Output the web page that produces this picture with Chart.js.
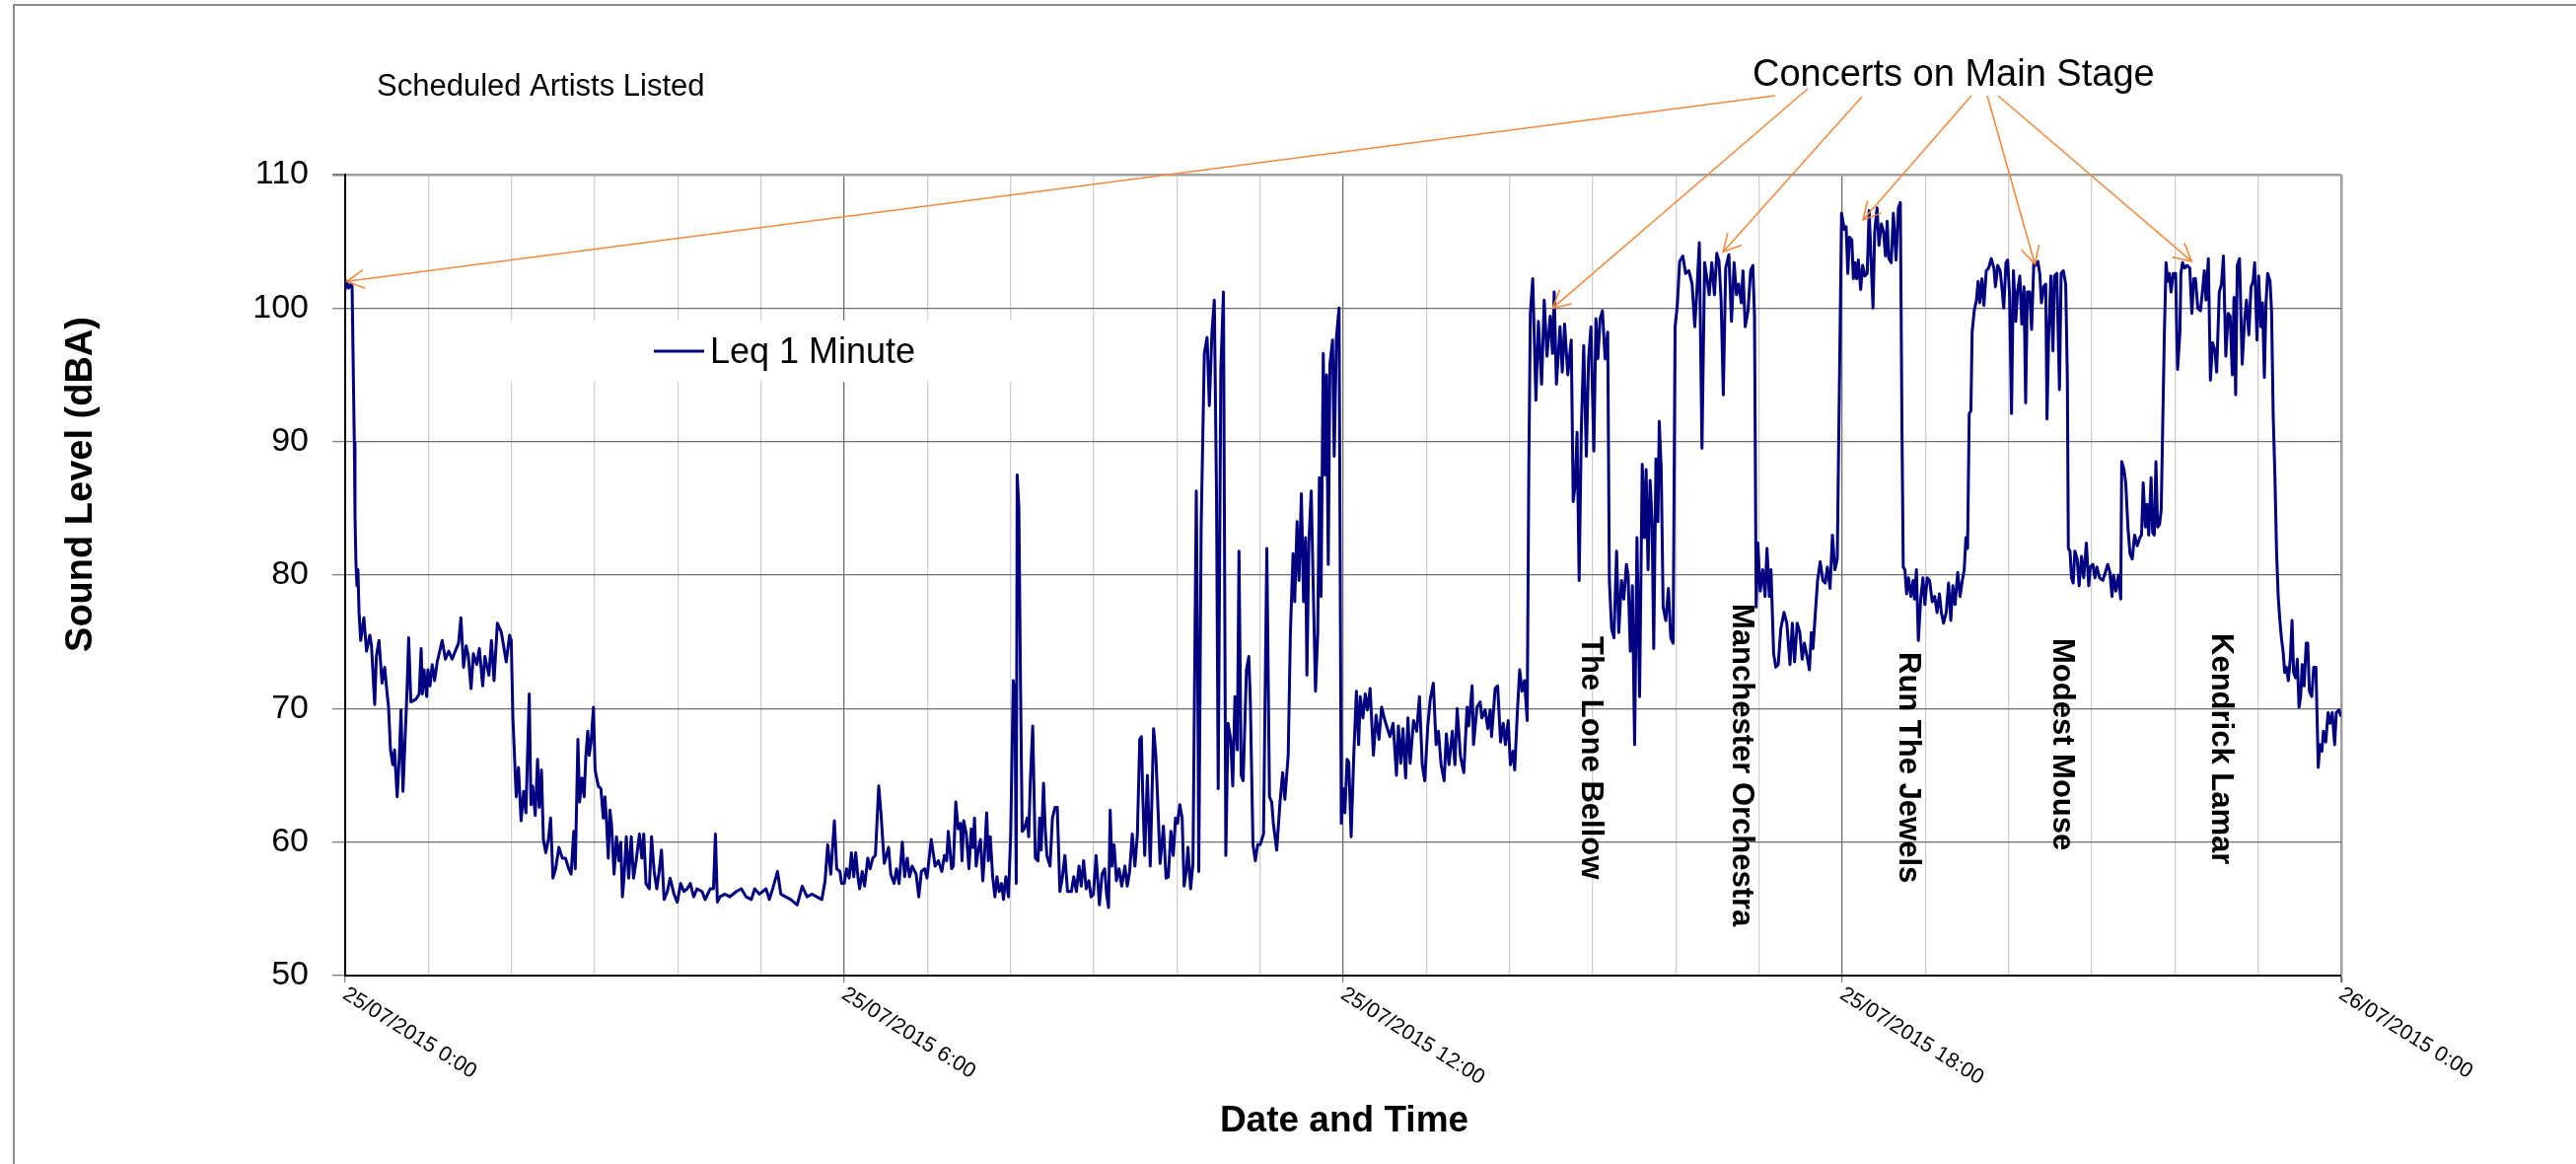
<!DOCTYPE html>
<html lang="en">
<head>
  <meta charset="UTF-8">
  <title>Sound Level 25/07/2015</title>
  <script src="https://cdn.jsdelivr.net/npm/chart.js"></script>
  <style>
    html, body {
      margin: 0;
      padding: 0;
      background: #fff;
    }
    #wrap {
      width: 2612px;
      height: 1180px;
    }
  </style>
</head>
<body>
<div id="wrap"><canvas id="chart" width="2612" height="1180"></canvas></div>

<script>
// Leq 1 minute readings as [minutes after 25/07/2015 0:00, dBA]
const overnight = [
  [0,101.4],[1,102.0],[2.5,101.5],[4.3,101.8],[5,101.6],[6.6,89.9],[7.1,84.4],[7.8,80.8],[8.5,79.2],[9.2,80.4],
  [10,77.2],[11.2,75.1],[13.5,76.8],[15.4,74.3],[17.8,75.5],[19,74.7],[21.3,70.3],[22.5,73.9],[24.4,75.1],[26.6,71.9],
  [28.5,73.1],[30.1,71.3],[31.3,70.1],[32.7,66.9],[34.4,65.8],[35.6,66.9],[37.5,63.4],[39.1,66.5],[40.3,69.9],[41.7,63.8],
  [43.2,67.7],[44.6,71.3],[45.8,75.3],[47.4,70.5],[51,70.7],[53.4,71.1],[54.8,74.5],[55.7,71.1],[56.9,72.9],[58.8,70.9],
  [59.7,72.9],[61.2,71.7],[62.8,73.3],[64.5,72.1],[66.4,73.5],[70,75.1],[72.3,73.7],[74.7,74.3],[77.1,73.7],[79.4,74.3],
  [81.8,74.9],[83.5,76.8],[85.4,73.1],[87.3,74.7],[88.9,73.9],[90.8,71.5],[92.5,74.1],[94.9,73.3],[96.8,74.5],[99.2,71.7],
  [100.8,73.9],[103.7,72.5],[105.5,75.1],[107.4,72.1],[109.8,76.4],[112.7,75.7],[116.2,73.5],[118.6,75.5],[119.8,75.1],[121,69.3],
  [123.4,63.4],[125,65.6],[126.9,61.6],[128.8,63.8],[130.4,62.2],[132.8,71.1],[134,62.8],[135.2,64.2],[137.1,62.0],[138.8,66.2],
  [140,62.6],[141.6,65.4],[143,60.2],[144.7,59.2],[146.6,60.2],[148.2,61.8],[149.9,57.3],[151.8,58.0],[154.2,59.6],[156.6,58.8],
  [158.9,58.8],[161.3,58.0],[163,57.6],[164.9,60.8],[166,58.0],[167.9,67.7],[169.1,63.0],[170.8,64.8],[172.4,63.4],[173.6,66.4],
  [175,68.3],[176,66.5],[177.4,67.5],[179.1,70.1],[180.3,65.4],[182.6,64.2],[184.5,64.0],[186.2,61.8],[187.4,63.4],[188.6,61.4],
  [189.8,58.8],[191,62.4],[192.1,61.4],[194,57.6],[195.7,60.4],[197.4,58.6],[198.8,60.0],[200,55.9],[201.2,57.4],[202.8,60.4],
  [204.5,57.3],[206.4,60.4],[208,57.3],[209.9,58.6],[212.3,60.6],[214,58.8],[215.4,60.6],[217,56.9],[219.4,56.5],[221,60.4],
  [222.9,57.8],[224.8,56.5],[226.5,57.8],[228.2,59.4],[230.1,55.7],[232.4,56.3],[234.4,57.3],[237.2,56.1],[239.6,55.5],[242,56.9],
  [244.3,56.3],[246.7,56.5],[249,56.9],[251.4,55.9],[253.8,56.5],[257.4,56.3],[259.7,55.7],[263.3,56.5],[265.7,56.5],[267.1,60.6],
  [268.5,55.5],[270.4,55.9],[274,56.1],[277.5,55.9],[282.2,56.3],[285.8,56.5],[289.3,55.9],[293,55.7],[295.4,56.5],[298.9,56.1],
  [303.6,56.5],[306,55.7],[308.4,56.5],[311.9,57.8],[314.3,56.1],[317.8,55.9],[321.4,55.7],[326.1,55.3],[329.7,56.7],[333.2,55.9],
  [336.8,56.1],[340.3,55.9],[343.9,55.7],[346.2,57.1],[348.1,59.8],[350.3,57.6],[352.9,61.6],[354.6,58.0],[356.9,57.8],[358.1,56.9]
];

const morning = [
  [360,56.9],[361.7,58.0],[363.6,57.3],[365.2,59.2],[366.9,57.4],[368.3,59.2],[370,57.3],[371.1,56.5],[373,57.8],[374.7,56.7],
  [377,58.8],[378.7,58.0],[380.6,58.8],[382.5,59.0],[384.9,64.2],[386.5,62.2],[388.9,58.4],[392,59.6],[393.6,57.6],[396,56.9],
  [397.7,58.0],[399.6,56.9],[401.9,60.0],[403.6,57.4],[405.5,58.8],[407.1,57.4],[409,58.2],[411.9,57.6],[413.8,55.9],[415.7,57.8],
  [418,58.0],[419.7,57.3],[422.8,60.2],[425.6,58.2],[428,58.6],[430.4,57.8],[432.3,59.0],[433.9,58.6],[435.1,60.8],[437.5,58.0],
  [438.7,58.2],[440.5,63.0],[442.2,61.0],[443.9,61.4],[445,58.6],[446.2,61.6],[448.1,60.6],[450,58.0],[451.7,61.0],[452.9,59.6],
  [454,61.8],[455.2,58.2],[456.4,59.2],[458.3,60.2],[460,57.1],[461.2,59.0],[462.8,62.2],[464,58.6],[465.4,60.4],[467.1,57.4],
  [468.7,55.9],[470.2,57.4],[471.8,56.3],[473.5,56.9],[474.9,55.7],[476.6,57.4],[478.5,55.9],[480.1,60.6],[482,72.1],[483.2,71.0],
  [484.1,56.9],[484.8,87.5],[486,85.1],[487.2,71.7],[488.4,60.8],[490,61.0],[492,61.8],[493.1,60.4],[494.3,64.6],[496,68.7],
  [497.9,58.8],[499.8,58.6],[501,61.8],[502.1,59.4],[503.8,64.4],[505,61.0],[506.2,59.0],[508.5,58.2],[510.2,61.8],[512.1,62.6],
  [513.7,62.6],[515.6,56.3],[517.3,57.3],[519.2,59.0],[521.1,56.3],[523.9,56.3],[525.6,57.4],[527.5,56.3],[529.4,58.2],[531,56.7],
  [532.7,58.6],[534.6,56.5],[536.5,57.1],[538.1,55.9],[539.8,56.1],[541.7,59.0],[544.1,55.3],[546,57.6],[547.9,58.0],[549.3,56.1],
  [550.7,55.1],[551.9,62.4],[553.1,58.2],[554.7,59.8],[556.4,57.1],[558.3,58.0],[560.2,56.7],[562.5,58.2],[564.2,56.7],[565.9,57.8],
  [567.8,60.6],[569.7,58.2],[571.5,60.6],[573.2,67.7],[574.4,67.9],[575.3,63.8],[576.8,59.0],[578.7,65.0],[580.8,58.2],[583.2,68.5],
  [584.8,66.5],[586.2,63.0],[587.9,58.4],[590.3,61.2],[592.2,57.3],[593.8,57.4],[595.7,60.8],[597.4,59.0],[599,61.8],[600.5,61.4],
  [602.1,62.8],[603.8,61.8],[605.2,56.7],[606.8,57.8],[608,59.6],[609.9,56.5],[611.6,58.4],[614,86.3],[615.1,71.7],[615.8,57.8],
  [617.5,83.6],[619.8,96.6],[621.8,97.8],[623.4,92.7],[625.3,98.2],[627,100.6],[628.6,85.9],[629.8,64.0],[631.7,95.4],[633.6,101.2],
  [635.3,59.0],[636.9,68.9],[638.8,67.7],[640.3,64.2],[641.9,70.9],[643.6,66.9],[644.8,81.8],[646.4,65.0],[647.8,64.6],[650.2,72.9],
  [651.9,73.9],[653,70.5],[654.9,59.8],[656.6,58.6],[658.3,59.8],[660.1,59.8],[662.5,60.6],[664.9,82.0],[666.8,63.4],[668.4,63.0],
  [669.6,61.4],[672,59.4],[674.4,63.0],[676.3,65.2],[677.9,63.2],[680.3,66.5],[681.9,75.7],[683.8,81.6],[685,78.0],[686.7,84.0],
  [688.1,79.6],[689.8,86.1],[691.4,78.0],[692.8,82.8],[693.8,72.5],[695.2,82.4],[696.9,86.3],[700,71.3],[701.6,75.7],[702.8,87.3],
  [704,78.4],[705.6,96.6],[706.8,87.5],[708,95.0],[709.2,80.8],[710.4,95.8],[712.3,97.6],[713.5,88.9],[715.1,97.8],[717,100.0]
];

const afternoon = [
  [718.6,61.4],[720,64.0],[721.2,62.2],[722.8,66.2],[724,66.0],[725.7,60.4],[727.6,66.5],[729.5,71.3],[731.1,67.3],[732.3,70.9],
  [734.2,69.3],[735.9,71.1],[737.5,69.9],[739.4,71.5],[741.8,66.5],[743.7,69.5],[745.8,67.7],[747.7,70.1],[750.1,69.1],[753.7,67.9],
  [756,68.9],[758.4,65.0],[759.8,68.7],[761.5,65.9],[763.1,68.5],[765,64.8],[766.7,69.3],[768.3,65.9],[770.7,69.1],[773,68.3],
  [775,70.9],[777,65.8],[778.8,64.6],[781,68.7],[782.8,70.7],[785,71.9],[787,67.3],[788.7,68.3],[790.6,65.8],[792.8,64.6],
  [794.4,68.1],[796.3,65.8],[798.7,68.3],[800.6,65.8],[802.2,70.0],[804.6,66.4],[807,65.2],[809.3,70.1],[810.5,68.7],[813,71.7],
  [814,67.3],[816.5,70.1],[818.8,70.5],[820,69.3],[822.4,69.9],[824.3,68.5],[826,69.9],[827,67.9],[829.6,71.5],[831.4,71.7],
  [833.5,67.5],[835.4,68.9],[837,67.3],[839,69.1],[840.6,65.8],[842.5,66.8],[843.7,65.4],[845.6,69.7],[847.3,72.9],[849,71.3],
  [850.8,72.1],[852.7,69.1],[853.9,88.3],[855,99.6],[856.7,102.2],[859,93.1],[860.8,99.0],[863.1,94.3],[865,100.6],[867,96.4],
  [869.3,99.4],[871,96.6],[872.2,101.2],[873.8,94.3],[876.4,98.6],[878,95.2],[879.7,98.8],[882,95.0],[884.5,97.6],[885.9,85.5],
  [887.3,86.7],[888.7,90.7],[890.2,79.6],[891.8,91.1],[893.5,97.2],[895.4,88.9],[897,96.2],[898.7,98.6],[900.8,89.3],[902.3,99.2],
  [903.7,96.2],[905.3,99.2],[907,99.8],[908.9,96.2],[910.8,98.2],[912,79.6],[913.6,76.0],[915.3,75.3],[917.2,81.8],[918.8,75.7],
  [920.7,79.6],[922.4,78.2],[924.3,80.8],[925.5,80.0],[927.1,74.3],[928.6,79.2],[930.2,67.3],[931.9,82.8],[933.8,70.9],[935.7,88.3],
  [937.3,82.8],[938.5,87.9],[939.9,80.4],[941.4,87.1],[942.8,84.0],[944,74.5],[945.6,88.7],[947,84.0],[948,91.5],[949.4,87.9],
  [950.8,77.6],[952.7,76.6],[954.6,79.0],[956.3,75.3],[958,74.9],[959.4,98.6],[961,100.2],[962.7,103.5],[965,103.9],[967,102.6],
  [969.3,102.8],[971.7,101.8],[973.6,98.6],[975.2,101.4],[976.9,104.9],[978.8,89.5],[980.7,103.4],[982.4,102.2],[984,101.0],[985.9,103.4],
  [987.8,101.0],[989.5,104.1],[991.1,103.5],[992.6,100.6],[994.2,93.5],[995.9,103.0],[998.2,104.0],[1000.1,99.0],[1002,103.4],[1003.7,101.0],
  [1005.3,101.8],[1007.2,100.4],[1008.4,102.8],[1010,98.6],[1012,99.8],[1013.9,102.8],[1015.5,103.2],[1016.7,99.4],[1017.9,77.6],[1019.1,82.4],
  [1020.8,78.8],[1022.6,80.4],[1024.3,78.4],[1025.7,82.0],[1027.4,78.4],[1028.6,80.4],[1030.5,74.1],[1032.1,73.1],[1033.8,73.3],[1035.7,76.0],
  [1038,77.2],[1040,76.4],[1042.3,73.3],[1044,76.4],[1045.6,73.5],[1047.5,76.4],[1049.4,75.7],[1051.1,73.7],[1052.7,74.9],[1054.6,73.9],
  [1056.3,72.9],[1057.7,75.7],[1058.9,74.5],[1060.6,77.2],[1062.2,79.6],[1064.1,81.0],[1066,79.6],[1067.7,79.4],[1069.3,80.6],[1071.2,79.0],
  [1072.9,83.0],[1074.7,80.4],[1076.4,81.2],[1077.9,93.9],[1079.5,107.1]
];

const evening = [
  [1081.4,105.9],[1082.8,106.1],[1084,102.6],[1085.2,105.3],[1086.9,105.1],[1088,102.2],[1089.2,103.4],[1090.4,102.2],[1091.6,103.6],[1093.3,101.4],
  [1094.7,103.2],[1096.3,102.4],[1098,102.6],[1099.4,107.3],[1100.6,104.1],[1102.2,100.0],[1103.4,105.7],[1105.1,107.5],[1106.5,104.7],[1108.2,106.3],
  [1109.8,105.7],[1111.2,103.9],[1112.4,106.5],[1113.6,103.7],[1115.3,103.4],[1116.9,107.1],[1118.8,103.6],[1120.5,107.5],[1121.9,107.9],[1123.1,90.7],
  [1124,80.6],[1125.2,80.4],[1126.4,78.6],[1127.8,79.8],[1129.5,78.4],[1131.1,79.6],[1132.1,78.2],[1133.5,80.4],[1134.9,75.1],[1136.6,78.2],
  [1138.2,79.8],[1139.6,77.8],[1141.3,79.8],[1143,79.6],[1144.9,78.0],[1146.7,78.4],[1148.4,77.2],[1150.1,78.6],[1151.5,77.2],[1153.1,76.4],
  [1155,77.2],[1156.7,79.4],[1158.3,76.6],[1159.8,79.2],[1161.4,77.8],[1163.3,80.2],[1165,78.4],[1166.6,79.6],[1168,80.4],[1169.2,82.8],
  [1170.4,82.0],[1171.6,92.1],[1172.8,92.3],[1173.7,98.2],[1175.2,99.8],[1176.8,100.6],[1178,102.0],[1179.2,100.4],[1180.8,102.2],[1182.2,100.2],
  [1183.9,102.8],[1185.6,103.0],[1187.5,103.7],[1189.4,103.0],[1190.5,101.6],[1192.2,103.2],[1193.9,102.8],[1195.3,101.4],[1196.5,100.0],[1198.1,103.4],
  [1199.3,103.6],[1200.7,101.0],[1202.1,92.1],[1203.5,102.8],[1205.2,99.0],[1206.4,101.2],[1208.1,102.4],[1209.5,98.8],[1211.1,101.6],[1212.3,92.9],
  [1213.5,101.2],[1215.2,101.2],[1216.6,98.4],[1218.2,103.4],[1219.4,103.2],[1221.1,103.5],[1222.5,102.6],[1223.7,100.4],[1225.4,101.6],[1226.8,101.8],
  [1227.7,91.7],[1228.9,97.8],[1230.5,102.4],[1232,96.8],[1233.1,102.4],[1234.8,102.6],[1236.7,93.9],[1237.9,102.6],[1239.5,102.8],[1241.2,101.8],
  [1242.4,94.6],[1243.1,82.0],[1244.3,81.8],[1245.4,79.8],[1246.6,79.4],[1247.8,81.8],[1249.5,81.2],[1250.9,79.2],[1252.6,81.4],[1254.2,79.8],
  [1256.1,82.4],[1257.8,79.2],[1258.9,80.6],[1260.8,80.8],[1262.3,79.8],[1263.7,80.6],[1265.6,79.8],[1268,79.6],[1269.8,80.2],[1271.5,80.8],
  [1273.1,80.2],[1274.6,78.4],[1275.7,80.0],[1277.4,78.8],[1279.3,80.0],[1280.9,78.2],[1281.6,88.5],[1283.3,87.9],[1284.5,86.9],[1286.2,83.4],
  [1287.6,81.6],[1289.2,81.2],[1290.9,83.0],[1292.8,82.2],[1294.7,82.8],[1295.9,83.0],[1297.1,86.9],[1298.7,83.6],[1299.9,85.3],[1301.1,83.0],
  [1302.8,87.3],[1303.9,83.2],[1305.1,83.0],[1306.3,88.5],[1307.5,83.6],[1308.9,83.8],[1310.1,84.9],[1311.3,91.9],[1312.4,98.2],[1313.6,103.4],
  [1314.8,102.0],[1316,102.6],[1317.2,101.2],[1318.8,102.6],[1320.5,102.6],[1321.9,95.4],[1323.6,98.2],[1324.3,102.6],[1325.5,103.4],[1327.1,103.0],
  [1328.8,103.2],[1330.7,103.0],[1332.2,99.6],[1333.6,102.2],[1334.8,102.2],[1336.5,100.0],[1338.4,99.8],[1340,101.4],[1341.2,102.8],[1342.4,100.6],
  [1344.1,103.7],[1345.6,94.6],[1347.2,97.4],[1348.9,96.8],[1350.1,95.2],[1352,101.2],[1353.6,101.8],[1355,103.9],[1356.7,96.4],[1358.4,99.6],
  [1359.8,99.4],[1361.4,95.0],[1362.6,100.8],[1363.8,93.5],[1365,103.2],[1366.6,103.7],[1368.5,95.8],[1370.2,99.0],[1371.6,100.6],[1373.3,98.0],
  [1374.9,101.6],[1376.4,102.0],[1377.5,103.4],[1379.2,97.6],[1380.4,102.4],[1382,98.6],[1383.2,100.4],[1384.5,94.8],[1385.7,100.4],[1386.9,102.6],
  [1388.6,102.0],[1389.7,99.8],[1390.9,91.9],[1392.1,87.5],[1393.3,81.8],[1394.5,78.4],[1395.7,76.6],[1396.8,75.3],[1398,74.3],[1399.2,72.7],
  [1400.4,73.1],[1401.8,72.1],[1403.2,73.7],[1404.5,76.6],[1405.6,72.7],[1407.1,72.3],[1408.3,73.7],[1409.5,70.1],[1410.7,70.9],[1411.8,73.3],
  [1413.2,71.7],[1414.7,74.9],[1415.8,74.9],[1417,71.3],[1418.7,70.9],[1420.1,73.1],[1421.7,73.1],[1423.4,65.6],[1424.5,67.3],[1426,66.8],
  [1427.1,68.3],[1428.8,67.5],[1430.5,69.7],[1431.9,68.9],[1433.5,69.7],[1435.2,67.3],[1436.4,69.7],[1438.3,69.9],[1439.5,69.5]
];

const seriesName = 'Leq 1 Minute';
const xTickMinutes = [0, 360, 720, 1080, 1440];
const xTickLabels = ['25/07/2015 0:00', '25/07/2015 6:00', '25/07/2015 12:00', '25/07/2015 18:00', '26/07/2015 0:00'];

// headliners on the main stage, with the time their label sits at
const artists = ['The Lone Bellow', 'Manchester Orchestra', 'Run The Jewels', 'Modest Mouse', 'Kendrick Lamar'];
const artistMinutes = [898, 1007, 1127, 1238, 1353];

// peaks the "Concerts on Main Stage" arrows point at
const arrowMinutes = [1.2, 871, 994, 1095, 1219, 1332];
const arrowLevels = [102.0, 100.0, 104.2, 106.6, 103.3, 103.5];

const FONT = '"Liberation Sans", Arial, Helvetica, sans-serif';
const ORANGE = '#F58A3F';

// where the arrows leave the caption, px
const arrowStarts = [[1800, 97], [1833, 90], [1888, 98], [1999, 97], [2015, 97], [2026, 97]];
const artistTops = [645, 612, 661, 647, 642];

function drawArrow(c, x0, y0, x1, y1) {
  const ang = Math.atan2(y1 - y0, x1 - x0);
  const len = 20, spread = 28 * Math.PI / 180;
  c.beginPath();
  c.moveTo(x0, y0);
  c.lineTo(x1, y1);
  c.moveTo(x1 - len * Math.cos(ang - spread), y1 - len * Math.sin(ang - spread));
  c.lineTo(x1, y1);
  c.lineTo(x1 - len * Math.cos(ang + spread), y1 - len * Math.sin(ang + spread));
  c.stroke();
}

const overlay = {
  id: 'overlay',
  beforeDraw(chart) {
    const c = chart.ctx;
    c.save();
    c.fillStyle = '#fff';
    c.fillRect(0, 0, chart.width, chart.height);
    c.restore();
  },
  beforeDatasetsDraw(chart) {
    // legend sits in a white box over the grid
    const c = chart.ctx;
    c.save();
    c.fillStyle = '#fff';
    c.fillRect(500, 325, 600, 62);
    c.strokeStyle = '#000080';
    c.lineWidth = 3;
    c.beginPath();
    c.moveTo(663, 356);
    c.lineTo(714, 356);
    c.stroke();
    c.fillStyle = '#000';
    c.font = '36px ' + FONT;
    c.textBaseline = 'alphabetic';
    c.fillText(seriesName, 720, 368);
    c.restore();
  },
  afterDatasetsDraw(chart) {
    const c = chart.ctx;
    const xs = chart.scales.x, ys = chart.scales.y;
    c.save();

    // arrows
    c.strokeStyle = ORANGE;
    c.lineWidth = 1.6;
    arrowMinutes.forEach((m, i) => {
      const [sx, sy] = arrowStarts[i];
      drawArrow(c, sx, sy, xs.getPixelForValue(m), ys.getPixelForValue(arrowLevels[i]));
    });

    c.fillStyle = '#000';
    c.textAlign = 'left';
    c.textBaseline = 'alphabetic';
    c.font = '31px ' + FONT;
    c.fillText('Scheduled Artists Listed', 382, 97);
    c.font = '38px ' + FONT;
    c.fillText('Concerts on Main Stage', 1777, 87);

    // artist names, reading downwards
    c.font = 'bold 31px ' + FONT;
    c.textBaseline = 'middle';
    artists.forEach((name, i) => {
      c.save();
      c.translate(xs.getPixelForValue(artistMinutes[i]), artistTops[i]);
      c.rotate(Math.PI / 2);
      c.fillText(name, 0, 0);
      c.restore();
    });

    // slanted date labels
    c.font = '21.5px ' + FONT;
    c.textBaseline = 'top';
    xTickMinutes.forEach((m, i) => {
      c.save();
      c.translate(xs.getPixelForValue(m) + 5, 997);
      c.rotate(32 * Math.PI / 180);
      c.fillText(xTickLabels[i], 0, 0);
      c.restore();
    });

    // axis titles
    c.font = 'bold 37px ' + FONT;
    c.textAlign = 'center';
    c.textBaseline = 'alphabetic';
    c.fillText('Date and Time', 1363, 1147);
    c.save();
    c.translate(83, 491);
    c.rotate(-Math.PI / 2);
    c.font = 'bold 38px ' + FONT;
    c.textBaseline = 'middle';
    c.fillText('Sound Level (dBA)', 0, 0);
    c.restore();

    c.restore();
  },
  afterDraw(chart) {
    const c = chart.ctx;
    c.save();
    c.strokeStyle = '#8a8a8a';
    c.lineWidth = 2;
    c.beginPath();
    c.moveTo(14, 1180);
    c.lineTo(14, 5);
    c.lineTo(2612, 5);
    c.stroke();
    c.restore();
  }
};

const points = [...overnight, ...morning, ...afternoon, ...evening].map(([x, y]) => ({ x, y }));

new Chart(document.getElementById('chart').getContext('2d'), {
  type: 'line',
  data: {
    datasets: [{
      label: seriesName,
      data: points,
      borderColor: '#000080',
      borderWidth: 3,
      borderJoinStyle: 'round',
      borderCapStyle: 'round',
      pointRadius: 0,
      tension: 0,
      fill: false
    }]
  },
  options: {
    responsive: false,
    animation: false,
    layout: { padding: { top: 177, right: 238, left: 0, bottom: 0 } },
    plugins: {
      legend: { display: false },
      tooltip: { enabled: false }
    },
    scales: {
      x: {
        type: 'linear',
        min: 0,
        max: 1440,
        ticks: { stepSize: 60, display: false },
        grid: {
          color: ctx => ctx.tick.value === 1440 ? '#a0a0a0' : (ctx.tick.value % 360 === 0 ? '#6e6e6e' : '#d0d0d0'),
          lineWidth: ctx => ctx.tick.value === 1440 ? 2.5 : 1.3,
          tickLength: 7,
          tickColor: ctx => ctx.tick.value % 360 === 0 ? '#808080' : 'rgba(0,0,0,0)'
        },
        border: { color: '#000', width: 2 },
        afterFit: s => { s.height = 191; }
      },
      y: {
        min: 50,
        max: 110,
        ticks: {
          stepSize: 10,
          color: '#000',
          padding: 24,
          font: { family: FONT, size: 34 }
        },
        grid: {
          color: ctx => ctx.tick.value === 110 ? '#a0a0a0' : (ctx.tick.value === 50 ? '#000' : '#6e6e6e'),
          lineWidth: ctx => ctx.tick.value === 110 ? 2.5 : 1.3,
          tickLength: 13,
          tickColor: '#808080'
        },
        border: { color: '#000', width: 2 },
        afterFit: s => { s.width = 350; }
      }
    }
  },
  plugins: [overlay]
});
</script>
</body>
</html>
